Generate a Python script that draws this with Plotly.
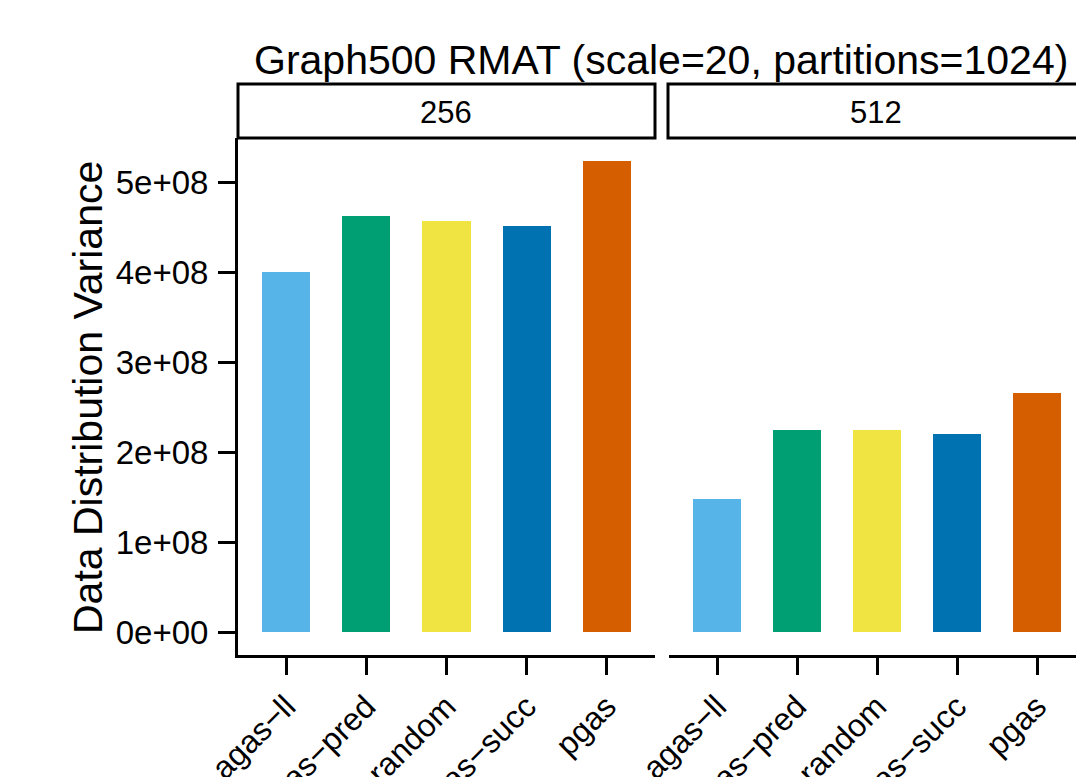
import plotly.graph_objects as go

methods = ["agas-ll", "agas-pred", "random", "agas-succ", "pgas"]
tick_labels = ["agas\u2212ll", "agas\u2212pred", "random", "agas\u2212succ", "pgas"]
colors = ["#56B4E9", "#009E73", "#F0E442", "#0072B2", "#D55E00"]
facets = ["256", "512"]
variance_256 = [4.01e8, 4.63e8, 4.58e8, 4.52e8, 5.245e8]
variance_512 = [1.48e8, 2.25e8, 2.25e8, 2.205e8, 2.66e8]
title = "Graph500 RMAT (scale=20, partitions=1024)"
ytitle = "Data Distribution Variance"
ytickvals = [0, 1e8, 2e8, 3e8, 4e8, 5e8]
yticktext = ["0e+00", "1e+08", "2e+08", "3e+08", "4e+08", "5e+08"]

W, H = 1084, 777
OFF = 8  # page body margin
FONT = "Liberation Sans, Arial, Helvetica, sans-serif"

def px(x):
    return (x - OFF) / W

def py(y):
    return 1 - (y - OFF) / H

fig = go.Figure()
for i, vals in enumerate([variance_256, variance_512]):
    xa = "x" if i == 0 else "x2"
    fig.add_trace(go.Bar(
        x=methods, y=vals, marker=dict(color=colors, line=dict(width=0)),
        width=0.6, xaxis=xa, yaxis="y", showlegend=False,
    ))

ydom = [py(655), py(138)]
yr = [-0.256e8, 5.50e8]
common_x = dict(
    type="category", categoryorder="array", categoryarray=methods,
    tickvals=methods, ticktext=tick_labels, tickangle=-45,
    showline=True, linecolor="black", linewidth=3,
    ticks="outside", ticklen=17, tickwidth=3, tickcolor="black",
    tickfont=dict(family=FONT, size=32, color="black"),
    showgrid=False, zeroline=False, anchor="y", automargin=False,
)
x2_right = 1085
fig.update_layout(
    width=W, height=H, margin=dict(l=0, r=0, t=0, b=0, autoexpand=False),
    plot_bgcolor="white", paper_bgcolor="white",
    bargap=0,
    xaxis=dict(domain=[px(238), px(655)], range=[-0.6, 4.6], **common_x),
    xaxis2=dict(domain=[px(669), px(x2_right)], range=[-0.6, 4.6], **common_x),
    yaxis=dict(
        domain=ydom, range=yr, tickvals=ytickvals, ticktext=yticktext,
        showline=True, linecolor="black", linewidth=3,
        ticks="outside", ticklen=17, tickwidth=3, tickcolor="black",
        tickfont=dict(family=FONT, size=33, color="black"),
        ticklabelstandoff=3,
        showgrid=False, zeroline=False, anchor="x", automargin=False,
    ),
)

# facet strips
strips = [(238, 655, 446), (668, 1100, 876)]
for (x0, x1, xc), lab in zip(strips, facets):
    fig.add_shape(type="rect", xref="paper", yref="paper",
                  x0=px(x0), x1=px(x1), y0=py(138), y1=py(84),
                  line=dict(color="black", width=3), fillcolor="white")
    fig.add_annotation(text=lab, xref="paper", yref="paper",
                       x=px(xc), y=py(112), showarrow=False,
                       font=dict(family=FONT, size=31, color="black"),
                       xanchor="center", yanchor="middle")

fig.add_annotation(text=title, xref="paper", yref="paper", x=px(661), y=py(60),
                   showarrow=False, xanchor="center", yanchor="middle",
                   font=dict(family=FONT, size=41, color="black"))
fig.add_annotation(text=ytitle, xref="paper", yref="paper", x=px(88), y=py(398),
                   showarrow=False, textangle=-90, xanchor="center", yanchor="middle",
                   font=dict(family=FONT, size=41, color="black"))

fig.write_html("out.html")
